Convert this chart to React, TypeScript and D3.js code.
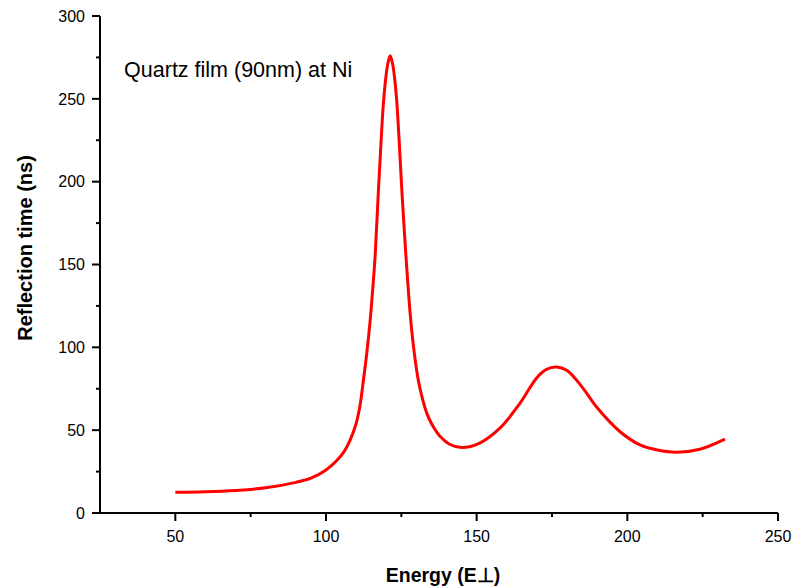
import React from "react";
import * as d3 from "d3";

const energy = [50, 60, 70, 80, 90, 95, 100, 103.5, 106, 108, 110, 111.3, 112.4, 113.5, 114.6, 115.5, 116.3, 117.4, 118.3, 119.0, 119.8, 120.5, 121.3, 122.1, 122.8, 123.5, 124.3, 125.1, 126.0, 126.8, 127.9, 129.0, 130.6, 132.0, 133.5, 135, 136.5, 138, 141, 145, 151, 157.7, 164.4, 169.9, 173, 176.5, 180, 185, 190, 197.5, 204.2, 210, 216.3, 224.1, 232.4];
const reflection = [12.5, 12.8, 13.6, 15.2, 18.5, 21, 26, 31.5, 37, 44, 54, 65, 80, 96, 115, 135, 155, 195, 225, 246, 262, 271, 276, 271, 262, 248, 224, 197, 170, 148, 121, 101, 80.4, 69, 60, 54, 49.5, 46, 41.5, 39.5, 42.2, 51.2, 66.3, 81.5, 86.5, 88.1, 86, 76, 63.5, 49.2, 41.1, 38, 36.7, 38.5, 44.6];
const xTicks = [50, 100, 150, 200, 250];
const xMinorTicks = [75, 125, 175, 225];
const yTicks = [0, 50, 100, 150, 200, 250, 300];
const yMinorTicks = [25, 75, 125, 175, 225, 275];
const annotation = "Quartz film (90nm) at Ni";
const xTitle = "Energy (E\u22A5)";
const yTitle = "Reflection time (ns)";

const W = 792, H = 588;
const left = 100, right = 778, top = 16, bottom = 513;
const font = "Arial, 'Liberation Sans', sans-serif";

export default function App() {
  const x = d3.scaleLinear().domain([25, 250]).range([left, right]);
  const y = d3.scaleLinear().domain([0, 300]).range([bottom, top]);
  const pts: [number, number][] = energy.map((e, i) => [e, reflection[i]]);
  const line = d3.line<[number, number]>().x(d => x(d[0])).y(d => y(d[1])).curve(d3.curveCatmullRom.alpha(0.5));

  return (
    <svg width={W} height={H} style={{ position: "absolute", left: 0, top: 0, background: "#fff" }}>
      <rect width={W} height={H} fill="#fff" />
      <line x1={left} x2={right} y1={bottom} y2={bottom} stroke="#000" strokeWidth={2} />
      <line x1={left} x2={left} y1={top} y2={bottom} stroke="#000" strokeWidth={2} />
      {xTicks.map(t => (
        <g key={"xt" + t}>
          <line x1={x(t)} x2={x(t)} y1={bottom} y2={bottom + 8} stroke="#000" strokeWidth={2} />
          <text x={x(t)} y={542} textAnchor="middle" fontFamily={font} fontSize={16} fill="#000">{t}</text>
        </g>
      ))}
      {xMinorTicks.map(t => (
        <line key={"xm" + t} x1={x(t)} x2={x(t)} y1={bottom} y2={bottom + 4} stroke="#000" strokeWidth={2} />
      ))}
      {yTicks.map(t => (
        <g key={"yt" + t}>
          <line x1={left - 8} x2={left} y1={y(t)} y2={y(t)} stroke="#000" strokeWidth={2} />
          <text x={85} y={y(t)} dy="0.36em" textAnchor="end" fontFamily={font} fontSize={16} fill="#000">{t}</text>
        </g>
      ))}
      {yMinorTicks.map(t => (
        <line key={"ym" + t} x1={left - 4} x2={left} y1={y(t)} y2={y(t)} stroke="#000" strokeWidth={2} />
      ))}
      <text x={443} y={582} textAnchor="middle" fontFamily={font} fontSize={19.5} fontWeight="bold" fill="#000">{xTitle}</text>
      <text transform="translate(32,248) rotate(-90)" textAnchor="middle" fontFamily={font} fontSize={20} fontWeight="bold" fill="#000">{yTitle}</text>
      <text x={x(33)} y={y(263)} fontFamily={font} fontSize={21.5} fill="#000">{annotation}</text>
      <path d={line(pts) || ""} fill="none" stroke="#ff0000" strokeWidth={3} strokeLinejoin="round" />
    </svg>
  );
}
